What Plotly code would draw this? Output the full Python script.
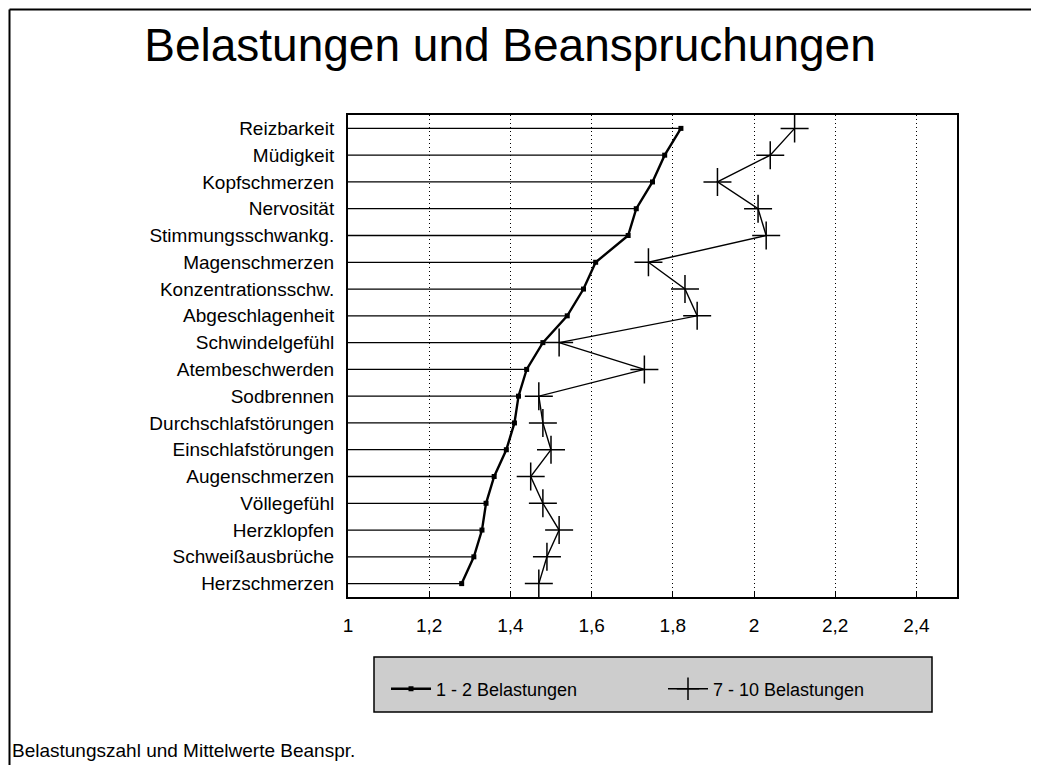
import plotly.graph_objects as go

categories = ["Reizbarkeit", "Müdigkeit", "Kopfschmerzen", "Nervosität", "Stimmungsschwankg.",
              "Magenschmerzen", "Konzentrationsschw.", "Abgeschlagenheit", "Schwindelgefühl",
              "Atembeschwerden", "Sodbrennen", "Durchschlafstörungen", "Einschlafstörungen",
              "Augenschmerzen", "Völlegefühl", "Herzklopfen", "Schweißausbrüche", "Herzschmerzen"]
low_load = [1.82, 1.78, 1.75, 1.71, 1.69, 1.61, 1.58, 1.54, 1.48, 1.44, 1.42, 1.41, 1.39,
            1.36, 1.34, 1.33, 1.31, 1.28]
high_load = [2.10, 2.04, 1.91, 2.01, 2.03, 1.74, 1.83, 1.86, 1.52, 1.73, 1.47, 1.48, 1.50,
             1.45, 1.48, 1.52, 1.49, 1.47]
x_ticks = [1, 1.2, 1.4, 1.6, 1.8, 2, 2.2, 2.4]
x_ticklabels = ["1", "1,2", "1,4", "1,6", "1,8", "2", "2,2", "2,4"]
series_names = ["1 - 2 Belastungen", "7 - 10 Belastungen"]
title_text = "Belastungen und Beanspruchungen"
footer_text = "Belastungszahl und Mittelwerte Beanspr."

FONT = "Liberation Sans, Arial, Helvetica, sans-serif"

# drop lines from axis origin to the first series
drop_x, drop_y = [], []
for c, v in zip(categories, low_load):
    drop_x += [x_ticks[0], v, None]
    drop_y += [c, c, None]

fig = go.Figure()
fig.add_trace(go.Scatter(x=drop_x, y=drop_y, mode="lines",
                         line=dict(color="black", width=1.3),
                         showlegend=False, hoverinfo="skip"))
fig.add_trace(go.Scatter(x=low_load, y=categories, mode="lines+markers", name=series_names[0],
                         line=dict(color="black", width=2.4),
                         marker=dict(symbol="square", size=5, color="black")))
fig.add_trace(go.Scatter(x=high_load, y=categories, mode="lines+markers", name=series_names[1],
                         line=dict(color="black", width=1.4),
                         marker=dict(symbol="cross-thin", size=20,
                                     line=dict(color="black", width=1.5))))

OFF = 8  # page body margin
W, H = 1031, 757
L, T = 348 - OFF, 115 - OFF
pw, ph = 609, 482
R, B = W - L - pw, H - T - ph


def px(xs):
    """screen x -> paper x"""
    return (xs - OFF - L) / pw


def py(ys):
    """screen y -> paper y"""
    return (T + ph - (ys - OFF)) / ph


shapes = [
    # outer frame
    dict(type="line", xref="paper", yref="paper", x0=px(9.5), x1=px(9.5), y0=py(9.5), y1=py(790),
         line=dict(color="black", width=2)),
    dict(type="line", xref="paper", yref="paper", x0=px(1035), x1=px(1035), y0=py(9.5), y1=py(790),
         line=dict(color="black", width=2)),
    dict(type="line", xref="paper", yref="paper", x0=px(9.5), x1=px(1035), y0=py(9.5), y1=py(9.5),
         line=dict(color="black", width=2)),
    # legend box
    dict(type="rect", xref="paper", yref="paper", x0=px(374), x1=px(932), y0=py(657), y1=py(712),
         fillcolor="#cdcdcd", line=dict(color="black", width=1.5), layer="below"),
]

fig.update_layout(
    width=W, height=H,
    margin=dict(l=L, r=R, t=T, b=B),
    paper_bgcolor="white", plot_bgcolor="white",
    font=dict(family=FONT, color="black"),
    title=dict(text=title_text, x=(510 - OFF) / W, xref="container", xanchor="center",
               y=1 - (45 - OFF) / H, yref="container", yanchor="middle",
               font=dict(size=46, family=FONT, color="black")),
    xaxis=dict(range=[1, 2.5], tickvals=x_ticks, ticktext=x_ticklabels,
               showgrid=True, gridcolor="black", griddash="1px,3px", gridwidth=1.2,
               showline=True, linecolor="black", linewidth=2, mirror=True,
               ticks="inside", ticklen=6, tickcolor="black", ticklabelstandoff=10,
               tickfont=dict(size=19, family=FONT), zeroline=False),
    yaxis=dict(categoryorder="array", categoryarray=categories,
               range=[len(categories) - 0.5, -0.5],
               showgrid=False, showline=True, linecolor="black", linewidth=2, mirror=True,
               ticks="", ticklabelstandoff=8,
               tickfont=dict(size=19, family=FONT), zeroline=False),
    legend=dict(orientation="h", x=px(386), xanchor="left", y=py(689), yanchor="middle",
                bgcolor="rgba(0,0,0,0)", font=dict(size=18, family=FONT),
                entrywidth=222, entrywidthmode="pixels", itemwidth=40),
    shapes=shapes,
    annotations=[dict(text=footer_text, xref="paper", yref="paper", x=px(10), y=py(750),
                      xanchor="left", yanchor="middle", showarrow=False,
                      font=dict(size=19, family=FONT))],
    showlegend=True,
)

fig.write_html("out.html")
